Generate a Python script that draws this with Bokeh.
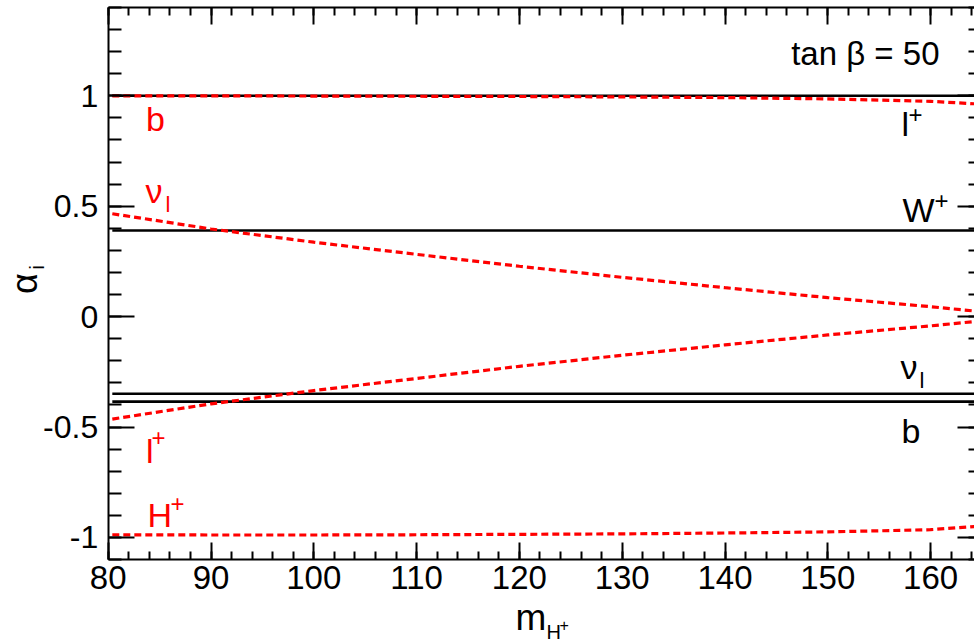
import numpy as np
from bokeh.plotting import figure
from bokeh.models import (Range1d, LinearAxis, FixedTicker, Label)
from bokeh.embed import file_html
from bokeh.resources import INLINE

# ---------------- data ----------------
m_H = [80.4, 90, 100, 110, 120, 130, 140, 150, 160, 165]
alpha_b_red = [1.0, 1.0, 0.999, 0.998, 0.997, 0.995, 0.992, 0.986, 0.975, 0.962]
alpha_nu_red = [0.466, 0.397, 0.337, 0.282, 0.228, 0.178, 0.131, 0.086, 0.045, 0.022]
alpha_l_red = [-0.464, -0.395, -0.335, -0.280, -0.225, -0.175, -0.128, -0.083, -0.042, -0.019]
alpha_H_red = [-0.988, -0.989, -0.989, -0.988, -0.986, -0.984, -0.980, -0.975, -0.965, -0.948]

# constant (top-decay) analysing powers: l+, W+, nu_l, b
alpha_black = [1.0, 0.39, -0.349, -0.385]

x_ticks = [80, 90, 100, 110, 120, 130, 140, 150, 160]
x_tick_labels = ["80", "90", "100", "110", "120", "130", "140", "150", "160"]
y_ticks = [-1.0, -0.5, 0.0, 0.5, 1.0]
y_tick_labels = ["-1", "-0.5", "0", "0.5", "1"]

# axis box (data units)
XA, XB = 80.0, 164.28
YA, YB = -1.1, 1.4

PX = 10.28   # pixels per x unit
PY = 220.8   # pixels per y unit
LEFT_PX, TOP_PX = 107.7, 7.0
W, H = 974, 644

# the frame spans the whole canvas so that titles can sit outside the axis box
X0v = XA - LEFT_PX / PX
X1v = X0v + W / PX
Y1v = YB + TOP_PX / PY
Y0v = Y1v - H / PY

FONT = "Liberation Sans"

p = figure(width=W, height=H, output_backend="svg", toolbar_location=None,
           x_range=Range1d(X0v, X1v), y_range=Range1d(Y0v, Y1v),
           min_border=0, x_axis_location=None, y_axis_location=None)
p.grid.visible = False
p.outline_line_color = None
p.background_fill_color = "white"
p.border_fill_color = "white"

x_minor = list(np.arange(80, 166, 2.0))
y_minor = list(np.round(np.arange(-1.1, 1.41, 0.1), 2))


def make_axis(kind, loc, show_labels, tin, tmin, line=True):
    if kind == "x":
        ax = LinearAxis(ticker=FixedTicker(ticks=x_ticks, minor_ticks=x_minor),
                        fixed_location=loc, bounds=(XA, XB))
        ov = {float(t): l for t, l in zip(x_ticks, x_tick_labels)}
        ov.update({int(t): l for t, l in zip(x_ticks, x_tick_labels)})
        ax.major_label_overrides = ov
    else:
        ax = LinearAxis(ticker=FixedTicker(ticks=y_ticks, minor_ticks=y_minor),
                        fixed_location=loc, bounds=(YA, YB))
        ax.major_label_overrides = {float(t): l for t, l in zip(y_ticks, y_tick_labels)}
    ax.major_tick_in = tin
    ax.major_tick_out = 0
    ax.minor_tick_in = tmin
    ax.minor_tick_out = 0
    ax.major_tick_line_width = 2
    ax.minor_tick_line_width = 2
    ax.major_tick_line_color = "black"
    ax.minor_tick_line_color = "black"
    ax.axis_line_width = 2
    ax.axis_line_color = "black" if line else None
    if show_labels:
        ax.major_label_text_font = FONT
        ax.major_label_text_font_size = "33px" if kind == "x" else "32px"
        ax.major_label_text_color = "black"
        ax.major_label_standoff = 6 if kind == "x" else 10
    else:
        ax.major_label_text_font_size = "0px"
        ax.major_label_standoff = 0
        ax.major_label_text_alpha = 0
    return ax


p.add_layout(make_axis("x", YA, True, 17, 8), "below")
p.add_layout(make_axis("y", XA, True, 26, 13), "left")
p.add_layout(make_axis("x", YB, False, 17, 8), "above")
p.add_layout(make_axis("y", XB, False, 17, 6, line=False), "right")

# black solid constant lines
for lvl in alpha_black:
    p.line([m_H[0], XB], [lvl, lvl], line_color="black", line_width=2.6)

# red dashed curves
for ys in (alpha_b_red, alpha_nu_red, alpha_l_red, alpha_H_red):
    p.line(m_H, ys, line_color="#ff0000", line_width=3.2, line_dash="7 4")


def xd(px):
    return X0v + px / PX


def yd(py):
    return Y1v - py / PY


def lab(text, px, py, size, color="black", align="left"):
    # py is the wanted baseline; place using the middle of the em box
    p.add_layout(Label(x=xd(px), y=yd(py - 0.35 * size), text=text, text_font=FONT,
                       text_font_size=f"{size}px", text_color=color,
                       text_align=align, text_baseline="middle"))


def rlab(text, px, py, size, color="black"):
    # rotated (reading upward); px is the horizontal centre, py the vertical centre
    p.add_layout(Label(x=xd(px), y=yd(py), text=text, text_font=FONT,
                       text_font_size=f"{size}px", text_color=color,
                       text_align="center", text_baseline="middle", angle=np.pi / 2))


RED = "#ff0000"
# red labels (left)
lab("b", 145.5, 130, 34, RED)
lab("ν", 145, 202, 34, RED)
lab("l", 165, 212, 22, RED)
lab("l", 145.5, 462, 34, RED)
lab("+", 151, 445, 24, RED)
lab("H", 147, 526, 34, RED)
lab("+", 170, 511, 24, RED)

# black labels (right)
lab("l", 901, 135, 34)
lab("+", 908, 122, 24)
lab("W", 902, 221, 34)
lab("+", 934, 208, 24)
lab("ν", 900, 378, 34)
lab("l", 919, 388, 22)
lab("b", 901, 442, 34)

lab("tan β = 50", 939, 65, 33, align="right")

# axis titles
lab("m", 515, 630, 37)
lab("H", 546, 638, 20)
lab("+", 559, 630, 16)

rlab("α", 24, 283, 36)
rlab("i", 36, 267, 21)

open("out.html", "w").write(file_html(p, INLINE))
